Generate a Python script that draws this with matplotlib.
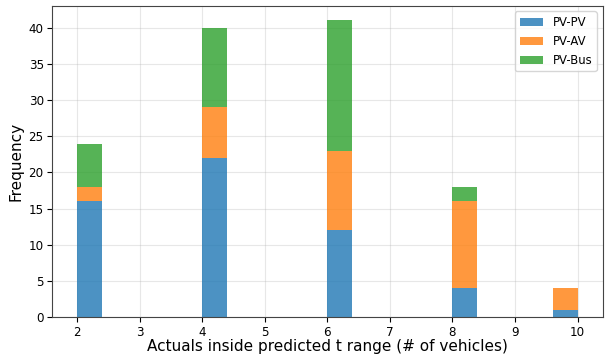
import matplotlib.pyplot as plt

# actual counts inside predicted range
positions = [2, 4, 6, 8, 10]
pv_pv = [16, 22, 12, 4, 1]
pv_av = [2, 7, 11, 12, 3]
pv_bus = [6, 11, 18, 2, 0]
labels = ['PV-PV', 'PV-AV', 'PV-Bus']

fig = plt.figure(figsize=(6.05, 3.54), dpi=100)
ax = fig.add_axes([0.086, 0.104, 0.91, 0.88])

ax.hist([positions, positions, positions], bins=20, range=(2, 10),
        weights=[pv_pv, pv_av, pv_bus], stacked=True, alpha=0.8,
        color=['tab:blue', 'tab:orange', 'tab:green'], label=labels)

ax.grid(alpha=0.3)
ax.set_axisbelow(True)
for s in ax.spines.values():
    s.set_color('#444444')
ax.set_xticks(range(2, 11))
ax.tick_params(labelsize=8.6, pad=2.5)
ax.set_xlabel('Actuals inside predicted t range (# of vehicles)', fontsize=11, labelpad=0)
ax.set_ylabel('Frequency', fontsize=11)
ax.legend(fontsize=8.4, loc='upper right')

plt.savefig('out.png', dpi=100)
